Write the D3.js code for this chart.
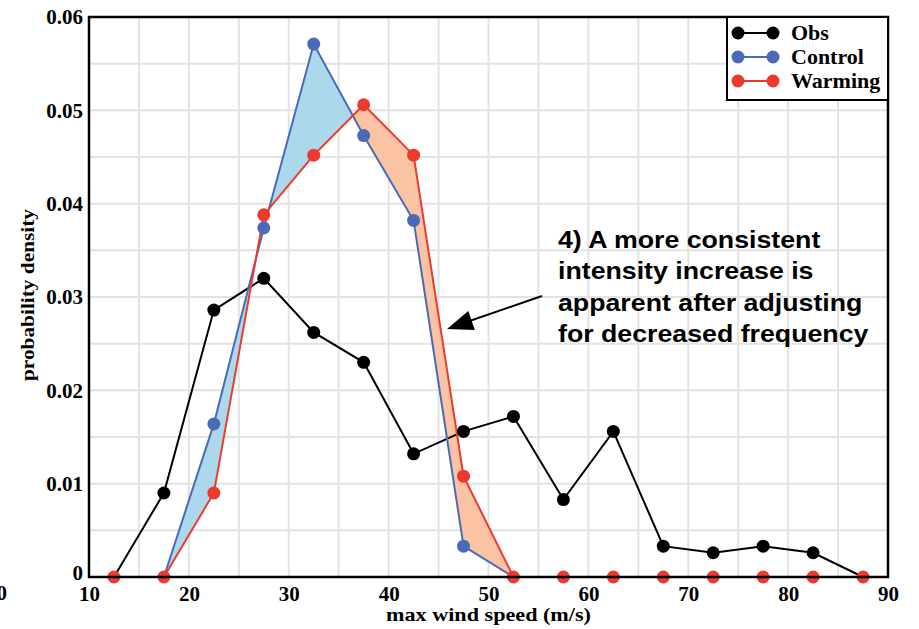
<!DOCTYPE html>
<html><head><meta charset="utf-8">
<script src="https://cdn.jsdelivr.net/npm/d3@7"></script>
<style>body{margin:0;background:#fff}svg{display:block}</style>
</head><body>
<script>
const xBins = [12.5,17.5,22.5,27.5,32.5,37.5,42.5,47.5,52.5,57.5,62.5,67.5,72.5,77.5,82.5,87.5];
const obs     = [0,0.0090,0.0286,0.0320,0.0262,0.0230,0.0132,0.0156,0.0172,0.0083,0.0156,0.0033,0.0026,0.0033,0.0026,0];
const control = [0,0,0.0164,0.0374,0.0571,0.0473,0.0382,0.0033,0,0,0,0,0,0,0,0];
const warming = [0,0,0.0090,0.0388,0.0452,0.0506,0.0452,0.0108,0,0,0,0,0,0,0,0];
const xTicks = [10,20,30,40,50,60,70,80,90];
const yTicks = [0,0.01,0.02,0.03,0.04,0.05,0.06];
const seriesNames = ["Obs","Control","Warming"];
const annotation = ["4) A more consistent","intensity increase is","apparent after adjusting","for decreased frequency"];

const W=919,H=629;
const m={l:89,r:31,t:17,b:52};
const svg=d3.select("body").append("svg").attr("width",W).attr("height",H);
const x=d3.scaleLinear().domain([10,90]).range([m.l,W-m.r]);
const y=d3.scaleLinear().domain([0,0.06]).range([H-m.b,m.t]);
const colors={Obs:"#000000",Control:"#4a6ab8",Warming:"#ee3a2c"};
const serif="'Liberation Serif','Times New Roman',serif";

// grid
const g=svg.append("g");
g.selectAll(".vg").data(d3.range(15,90,5)).join("line")
 .attr("x1",d=>x(d)).attr("x2",d=>x(d)).attr("y1",y(0)).attr("y2",y(0.06))
 .attr("stroke","#e3e3e3").attr("stroke-width",2);
g.selectAll(".hg").data(d3.range(1,12).map(i=>i*0.005)).join("line")
 .attr("y1",d=>y(d)).attr("y2",d=>y(d)).attr("x1",x(10)).attr("x2",x(90))
 .attr("stroke","#e3e3e3").attr("stroke-width",2);

// fills between control and warming
const pts=[];
for(let i=0;i<xBins.length;i++){
  pts.push({x:xBins[i],c:control[i],w:warming[i]});
  if(i<xBins.length-1){
    const d0=control[i]-warming[i], d1=control[i+1]-warming[i+1];
    if(d0*d1<0){
      const t=d0/(d0-d1);
      pts.push({x:xBins[i]+t*(xBins[i+1]-xBins[i]),c:control[i]+t*(control[i+1]-control[i]),w:warming[i]+t*(warming[i+1]-warming[i])});
    }
  }
}
const areaBlue=d3.area().x(d=>x(d.x)).y0(d=>y(d.w)).y1(d=>y(Math.max(d.c,d.w)));
const areaOrange=d3.area().x(d=>x(d.x)).y0(d=>y(d.c)).y1(d=>y(Math.max(d.c,d.w)));
svg.append("path").attr("d",areaBlue(pts)).attr("fill","#acd8ec");
svg.append("path").attr("d",areaOrange(pts)).attr("fill","#f9c3a4");

// lines
const data={Obs:obs,Control:control,Warming:warming};
seriesNames.forEach(name=>{
  const vals=data[name];
  let idx=vals.map((v,i)=>i);
  if(name!=="Obs"){ idx=idx.filter(i=>i>=1 && i<=8); }
  svg.append("path").attr("d",d3.line().x(i=>x(xBins[i])).y(i=>y(vals[i]))(idx))
   .attr("fill","none").attr("stroke",colors[name]).attr("stroke-width",2);
});
// markers (warming on top)
svg.selectAll(".mo").data(xBins.slice(1,15)).join("circle")
 .attr("cx",d=>x(d)).attr("cy",(d,i)=>y(obs[i+1])).attr("r",6.5).attr("fill",colors.Obs);
svg.selectAll(".mc").data(xBins.slice(2,8)).join("circle")
 .attr("cx",d=>x(d)).attr("cy",(d,i)=>y(control[i+2])).attr("r",6.5).attr("fill",colors.Control);
svg.selectAll(".mw").data(xBins).join("circle")
 .attr("cx",d=>x(d)).attr("cy",(d,i)=>y(warming[i])).attr("r",6.5).attr("fill",colors.Warming);

// frame
svg.append("rect").attr("x",x(10)).attr("y",y(0.06)).attr("width",x(90)-x(10)).attr("height",y(0)-y(0.06))
 .attr("fill","none").attr("stroke","#000").attr("stroke-width",2.5);

// axes
const xa=svg.append("g").attr("transform",`translate(0,${y(0)})`)
 .call(d3.axisBottom(x).tickValues(xTicks).tickSize(0).tickPadding(9).tickFormat(d3.format("d")));
xa.select(".domain").remove();
xa.selectAll("text").attr("font-family",serif).attr("font-weight","bold").attr("font-size",21).attr("fill","#000");
const ya=svg.append("g").attr("transform",`translate(${x(10)},0)`)
 .call(d3.axisLeft(y).tickValues(yTicks).tickSize(0).tickPadding(6).tickFormat(d=>d===0?"0":d3.format(".2f")(d)));
ya.select(".domain").remove();
ya.selectAll("text").attr("font-family",serif).attr("font-weight","bold").attr("font-size",21).attr("fill","#000");
ya.selectAll("text").filter(d=>d===0).attr("dy","0.12em");

svg.append("text").attr("x",x(50)).attr("y",621).attr("text-anchor","middle")
 .attr("font-family",serif).attr("font-weight","bold").attr("font-size",19)
 .attr("textLength",205).attr("lengthAdjust","spacingAndGlyphs").text("max wind speed (m/s)");
svg.append("text").attr("transform",`translate(34,${y(0.03)-2}) rotate(-90)`).attr("text-anchor","middle")
 .attr("font-family",serif).attr("font-weight","bold").attr("font-size",19)
 .attr("textLength",172).attr("lengthAdjust","spacingAndGlyphs").text("probability density");
svg.append("text").attr("x",7).attr("y",y(0)+23).attr("text-anchor","end")
 .attr("font-family",serif).attr("font-weight","bold").attr("font-size",21).text("0");

// legend
const lg=svg.append("g");
lg.append("rect").attr("x",727).attr("y",y(0.06)).attr("width",x(90)-727).attr("height",83)
 .attr("fill","#fff").attr("stroke","#000").attr("stroke-width",2);
seriesNames.forEach((n,i)=>{
  const yy=33+i*24;
  lg.append("line").attr("x1",738).attr("x2",773).attr("y1",yy).attr("y2",yy).attr("stroke",colors[n]).attr("stroke-width",2);
  lg.append("circle").attr("cx",738).attr("cy",yy).attr("r",6.5).attr("fill",colors[n]);
  lg.append("circle").attr("cx",773).attr("cy",yy).attr("r",6.5).attr("fill",colors[n]);
  lg.append("text").attr("x",791).attr("y",yy+7).attr("font-family",serif).attr("font-weight","bold")
   .attr("font-size",22).text(n);
});

// annotation
const at=svg.append("text").attr("transform","translate(558,0) scale(1.114,1)")
 .attr("font-family","'Liberation Sans',Arial,sans-serif").attr("font-weight","bold").attr("font-size",24).attr("fill","#000");
annotation.forEach((s,i)=>at.append("tspan").attr("x",0).attr("y",248+i*31.5).text(s));
svg.append("line").attr("x1",542).attr("y1",296).attr("x2",455).attr("y2",326)
 .attr("stroke","#000").attr("stroke-width",2);
svg.append("path").attr("d",(()=>{
  const tx=447,ty=329,ang=Math.atan2(296-329,542-447),L=26,Wd=10;
  const bx=tx+L*Math.cos(ang),by=ty+L*Math.sin(ang);
  const px=-Math.sin(ang)*Wd,py=Math.cos(ang)*Wd;
  return `M${tx},${ty}L${bx+px},${by+py}L${bx-px},${by-py}Z`;
})()).attr("fill","#000");
</script>
</body></html>
